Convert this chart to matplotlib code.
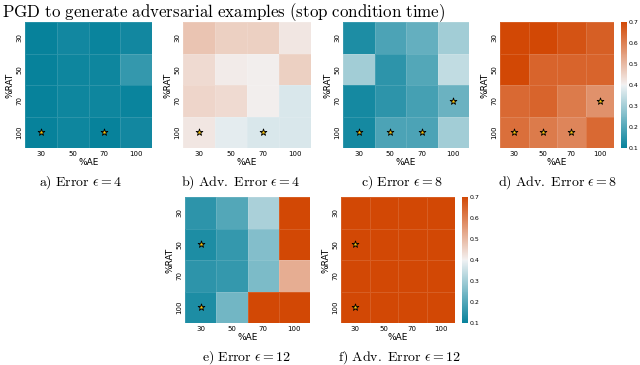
import numpy as np
import matplotlib
matplotlib.use("Agg")
import matplotlib.pyplot as plt
import seaborn as sns

plt.rcParams['mathtext.fontset'] = 'cm'

ae = [30, 50, 70, 100]
rat = [30, 50, 70, 100]

# rows = %RAT (30, 50, 70, 100), cols = %AE (30, 50, 70, 100)
err_4 = [[0.10, 0.115, 0.105, 0.115],
         [0.10, 0.11, 0.11, 0.16],
         [0.10, 0.11, 0.11, 0.105],
         [0.10, 0.11, 0.10, 0.115]]
adv_4 = [[0.48, 0.46, 0.46, 0.42],
         [0.44, 0.41, 0.405, 0.46],
         [0.45, 0.44, 0.405, 0.37],
         [0.42, 0.385, 0.37, 0.37]]
err_8 = [[0.13, 0.19, 0.22, 0.30],
         [0.30, 0.15, 0.20, 0.34],
         [0.12, 0.15, 0.18, 0.23],
         [0.12, 0.19, 0.19, 0.30]]
adv_8 = [[0.70, 0.70, 0.68, 0.66],
         [0.70, 0.65, 0.65, 0.65],
         [0.64, 0.65, 0.61, 0.57],
         [0.63, 0.61, 0.59, 0.64]]
err_12 = [[0.15, 0.20, 0.31, 0.72],
          [0.13, 0.16, 0.26, 0.72],
          [0.15, 0.16, 0.25, 0.52],
          [0.13, 0.24, 0.72, 0.72]]
adv_12 = [[0.75, 0.75, 0.75, 0.75],
          [0.75, 0.75, 0.75, 0.75],
          [0.75, 0.75, 0.75, 0.75],
          [0.75, 0.75, 0.75, 0.75]]

# starred cells as (%AE, %RAT)
stars_4 = [(30, 100), (70, 100)]
stars_8 = [(30, 100), (50, 100), (70, 100), (100, 70)]
stars_12 = [(30, 50), (30, 100)]

captions = [r"$\mathrm{a)\ Error\ }\epsilon{=}\mathrm{4}$",
            r"$\mathrm{b)\ Adv.\ Error\ }\epsilon{=}\mathrm{4}$",
            r"$\mathrm{c)\ Error\ }\epsilon{=}\mathrm{8}$",
            r"$\mathrm{d)\ Adv.\ Error\ }\epsilon{=}\mathrm{8}$",
            r"$\mathrm{e)\ Error\ }\epsilon{=}\mathrm{12}$",
            r"$\mathrm{f)\ Adv.\ Error\ }\epsilon{=}\mathrm{12}$"]

cmap = sns.diverging_palette(220, 20, s=99, l=50, as_cmap=True)

fig = plt.figure(figsize=(6.4, 3.65), dpi=100)

W, H = 640, 365
def px(x0, x1, y0, y1):
    return [x0 / W, 1 - y1 / H, (x1 - x0) / W, (y1 - y0) / H]

panels = [
    (err_4, stars_4, px(25, 152, 22, 148), None),
    (adv_4, stars_4, px(183, 311, 22, 148), None),
    (err_8, stars_8, px(343, 469, 22, 148), None),
    (adv_8, stars_8, px(500, 614, 22, 148), px(621, 627, 22, 148)),
    (err_12, stars_12, px(185, 310, 197, 323), None),
    (adv_12, stars_12, px(341, 455, 197, 323), px(462, 468, 197, 323)),
]
cap_pos = [(81, 183), (241, 183), (402, 183), (558, 183), (246, 358), (399, 358)]

for (data, stars, rect, cbrect), cap, (cx, cy) in zip(panels, captions, cap_pos):
    ax = fig.add_axes(rect)
    cax = fig.add_axes(cbrect) if cbrect else None
    sns.heatmap(np.array(data), ax=ax, cmap=cmap, vmin=0.1, vmax=0.7, center=0.4,
                cbar=cax is not None, cbar_ax=cax,
                linewidths=0.4, linecolor=(1, 1, 1, 0.12),
                xticklabels=ae, yticklabels=rat)
    for a, r in stars:
        ax.scatter(ae.index(a) + 0.5, rat.index(r) + 0.5, marker='*', s=26,
                   color='#f4c20d', edgecolor='black', linewidth=0.6, zorder=5)
    ax.tick_params(length=0, labelsize=5, pad=2)
    ax.set_yticklabels(rat, rotation=90, va='center')
    ax.set_xticklabels(ae, rotation=0)
    ax.set_xlabel('%AE', fontsize=6.5, labelpad=1)
    ax.set_ylabel('%RAT', fontsize=6.5, labelpad=1)
    if cax is not None:
        cax.set_yticks([0.1, 0.2, 0.3, 0.4, 0.5, 0.6, 0.7])
        cax.tick_params(length=0, labelsize=4.5, pad=1)
    fig.text(cx / W, 1 - cy / H, cap, fontsize=10, ha='center', va='center')

fig.text(2 / W, 1 - 1.5 / H,
         r"$\mathrm{PGD\ to\ generate\ adversarial\ examples\ (stop\ condition\ time)}$",
         fontsize=12.2, ha='left', va='top')

fig.savefig("out.png", dpi=100)
